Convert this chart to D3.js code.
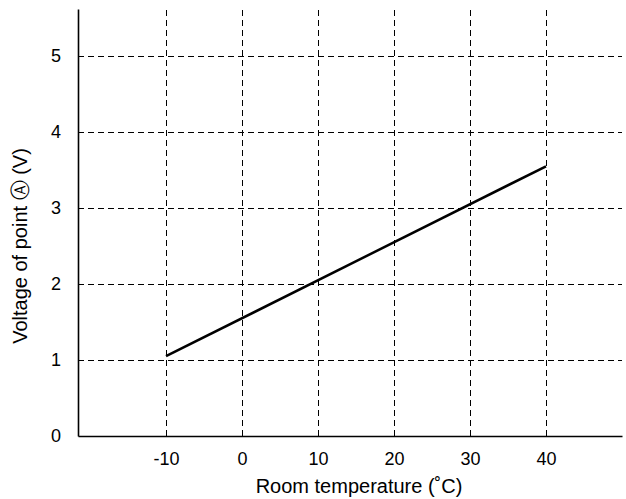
<!DOCTYPE html>
<html><head><meta charset="utf-8">
<script src="https://cdn.jsdelivr.net/npm/d3@7"></script>
<style>body{margin:0;background:#fff}svg{display:block}text{font-family:"Liberation Sans",Arial,sans-serif}</style>
</head><body>
<script>
const temperatures = [-10, 40];
const voltages = [1.05, 3.55];
const xTicks = [-10, 0, 10, 20, 30, 40];
const yTicks = [0, 1, 2, 3, 4, 5];
const xLabel = "Room temperature (˚C)";
const yLabel = "Voltage of point Ⓐ (V)";

(function () {
const W = 626, H = 499;
const mLeft = 78, mRight = 622, mTop = 9, mBottom = 436;
const svg = d3.select("body").append("svg").attr("width", W).attr("height", H);
const x = d3.scaleLinear().domain([-21.58, 50]).range([mLeft, mRight]);
const y = d3.scaleLinear().domain([0, 5.62]).range([mBottom, mTop]);
const crisp = v => Math.round(v) + 0.5;

// grid
svg.append("g").selectAll("line").data(xTicks).join("line")
  .attr("x1", d => crisp(x(d))).attr("x2", d => crisp(x(d))).attr("y1", mBottom).attr("y2", mTop)
  .attr("stroke", "#000").attr("stroke-width", 1).attr("stroke-dasharray", "6,4")
  .attr("shape-rendering", "crispEdges");
svg.append("g").selectAll("line").data(yTicks.filter(d => d > 0)).join("line")
  .attr("x1", mLeft).attr("x2", mRight).attr("y1", d => crisp(y(d))).attr("y2", d => crisp(y(d)))
  .attr("stroke", "#000").attr("stroke-width", 1).attr("stroke-dasharray", "6,4")
  .attr("shape-rendering", "crispEdges");

// axes
const fmt = d => String(d);
const xAxis = d3.axisBottom(x).tickValues(xTicks).tickSize(0).tickPadding(16).tickFormat(fmt);
const gx = svg.append("g").attr("transform", `translate(0,${mBottom})`).call(xAxis);
gx.attr("font-size", 18).attr("font-family", "Liberation Sans, Arial, sans-serif");
gx.select(".domain").attr("stroke-width", 1.6);
const yAxis = d3.axisLeft(y).tickValues(yTicks).tickSize(0).tickPadding(17).tickFormat(fmt);
const gy = svg.append("g").attr("transform", `translate(${mLeft},0)`).call(yAxis);
gy.attr("font-size", 18).attr("font-family", "Liberation Sans, Arial, sans-serif");
gy.select(".domain").attr("stroke-width", 1.6);

// line
const line = d3.line().x((d, i) => x(temperatures[i])).y(d => y(d));
svg.append("path").datum(voltages).attr("d", line)
  .attr("fill", "none").attr("stroke", "#000").attr("stroke-width", 2.5);

// labels
svg.append("text").attr("x", 359).attr("y", 493).attr("text-anchor", "middle")
  .attr("font-size", 20).text(xLabel);
svg.append("text").attr("transform", "translate(27,246) rotate(-90)").attr("text-anchor", "middle")
  .attr("font-size", 20).text(yLabel);
})();
</script>
</body></html>
